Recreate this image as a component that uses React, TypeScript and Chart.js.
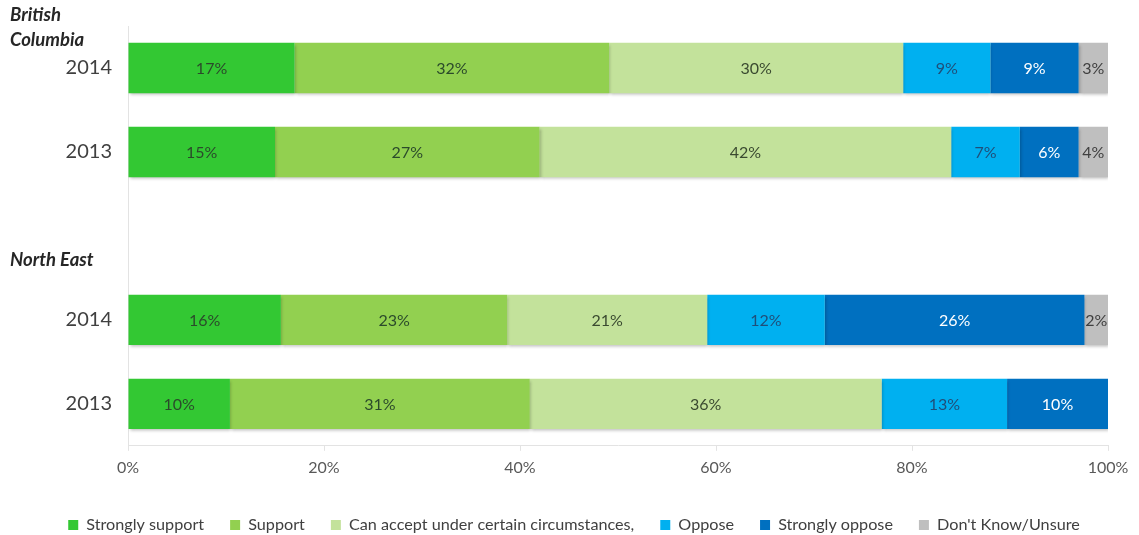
import React, { useEffect, useRef } from "react";
import { Chart, registerables } from "chart.js";

Chart.register(...registerables);

const categories = ["2014", "2013", "", "2014", "2013"];
const seriesNames = [
  "Strongly support",
  "Support",
  "Can accept under certain circumstances,",
  "Oppose",
  "Strongly oppose",
  "Don't Know/Unsure",
];
const stronglySupport = [17, 15, null, 15.6, 10.4];
const support = [32.1, 27, null, 23.1, 30.6];
const canAccept = [30, 42, null, 20.4, 35.9];
const oppose = [8.9, 7, null, 12, 12.8];
const stronglyOppose = [9, 6, null, 26.5, 10.3];
const unsure = [3, 3, null, 2.4, null];

const stronglySupportLabels = ["17%", "15%", "", "16%", "10%"];
const supportLabels = ["32%", "27%", "", "23%", "31%"];
const canAcceptLabels = ["30%", "42%", "", "21%", "36%"];
const opposeLabels = ["9%", "7%", "", "12%", "13%"];
const stronglyOpposeLabels = ["9%", "6%", "", "26%", "10%"];
const unsureLabels = ["3%", "4%", "", "2%", ""];

const groupTitles = [["British", "Columbia"], ["North East"]];
const xTicks = [0, 20, 40, 60, 80, 100];

const colors = ["#33c833", "#92d050", "#c3e29b", "#00b0f0", "#0070c0", "#bfbfbf"];
const labelColors = ["#2b4a2b", "#2b4a2b", "#3a4a30", "#1f4e79", "#ffffff", "#404040"];

const FONT = "Lato, 'Open Sans', sans-serif";

export default function App() {
  const ref = useRef<HTMLCanvasElement | null>(null);

  useEffect(() => {
    const values = [stronglySupport, support, canAccept, oppose, stronglyOppose, unsure];
    const labels = [
      stronglySupportLabels,
      supportLabels,
      canAcceptLabels,
      opposeLabels,
      stronglyOpposeLabels,
      unsureLabels,
    ];

    const dataLabelPlugin = {
      id: "dataLabels",
      afterDatasetsDraw(chart: any) {
        const ctx = chart.ctx;
        ctx.save();
        ctx.font = `16px ${FONT}`;
        ctx.textAlign = "center";
        ctx.textBaseline = "middle";
        chart.data.datasets.forEach((ds: any, di: number) => {
          const meta = chart.getDatasetMeta(di);
          meta.data.forEach((el: any, i: number) => {
            const t = labels[di][i];
            if (!t || ds.data[i] == null) return;
            ctx.fillStyle = labelColors[di];
            ctx.fillText(t, (el.x + el.base) / 2, el.y + 1);
          });
        });
        ctx.restore();
      },
    };

    const shadowPlugin = {
      id: "barShadow",
      beforeDatasetsDraw(chart: any) {
        const ctx = chart.ctx;
        ctx.save();
        ctx.shadowColor = "rgba(0,0,0,0.25)";
        ctx.shadowBlur = 3;
        ctx.shadowOffsetX = 1;
        ctx.shadowOffsetY = 2;
      },
      afterDatasetsDraw(chart: any) {
        chart.ctx.restore();
      },
    };

    const groupTitlePlugin = {
      id: "groupTitles",
      afterDraw(chart: any) {
        const ctx = chart.ctx;
        const y = chart.scales.y;
        ctx.save();
        ctx.font = `italic bold 18.5px ${FONT}`;
        ctx.fillStyle = "#262626";
        ctx.textAlign = "left";
        ctx.textBaseline = "middle";
        const y0 = y.getPixelForValue(0);
        ctx.fillText(groupTitles[0][0], 10, y0 - 53);
        ctx.fillText(groupTitles[0][1], 10, y0 - 28);
        const y2 = y.getPixelForValue(2);
        ctx.fillText(groupTitles[1][0], 10, y2 + 24);
        ctx.restore();
      },
    };

    const chart = new Chart(ref.current as HTMLCanvasElement, {
      type: "bar",
      data: {
        labels: categories,
        datasets: values.map((v, i) => ({
          label: seriesNames[i],
          data: v,
          backgroundColor: colors[i],
          borderWidth: 0,
          barPercentage: 0.6,
          categoryPercentage: 1,
        })),
      },
      options: {
        indexAxis: "y",
        animation: false,
        responsive: false,
        devicePixelRatio: 1,
        layout: { padding: { top: 26, right: 31, left: 40, bottom: -8 } },
        scales: {
          x: {
            stacked: true,
            min: 0,
            max: 100,
            afterBuildTicks(scale: any) {
              scale.ticks = xTicks.map((v) => ({ value: v }));
            },
            afterFit(scale: any) {
              scale.height = 45;
            },
            grid: {
              display: true,
              drawOnChartArea: false,
              drawTicks: true,
              tickLength: 5,
              color: "#e3e3e3",
            },
            border: { display: true, color: "#e3e3e3" },
            ticks: {
              padding: 7,
              color: "#595959",
              font: { family: FONT, size: 16 },
              callback: (v: any) => `${v}%`,
            },
          },
          y: {
            stacked: true,
            afterFit(scale: any) {
              scale.width = 88;
            },
            grid: { display: false },
            border: { display: true, color: "#e3e3e3" },
            ticks: {
              padding: 8,
              color: "#404040",
              font: { family: FONT, size: 20 },
            },
          },
        },
        plugins: {
          legend: {
            position: "bottom",
            labels: {
              boxWidth: 10,
              boxHeight: 10,
              padding: 26,
              color: "#404040",
              font: { family: FONT, size: 16.2 },
            },
          },
          tooltip: { enabled: false },
        },
      },
      plugins: [shadowPlugin, dataLabelPlugin, groupTitlePlugin],
    } as any);

    return () => chart.destroy();
  }, []);

  return (
    <div style={{ position: "fixed", left: 0, top: 0, width: 1139, height: 535, background: "#fff" }}>
      <canvas ref={ref} width={1139} height={535} style={{ width: 1139, height: 535, display: "block" }} />
    </div>
  );
}
